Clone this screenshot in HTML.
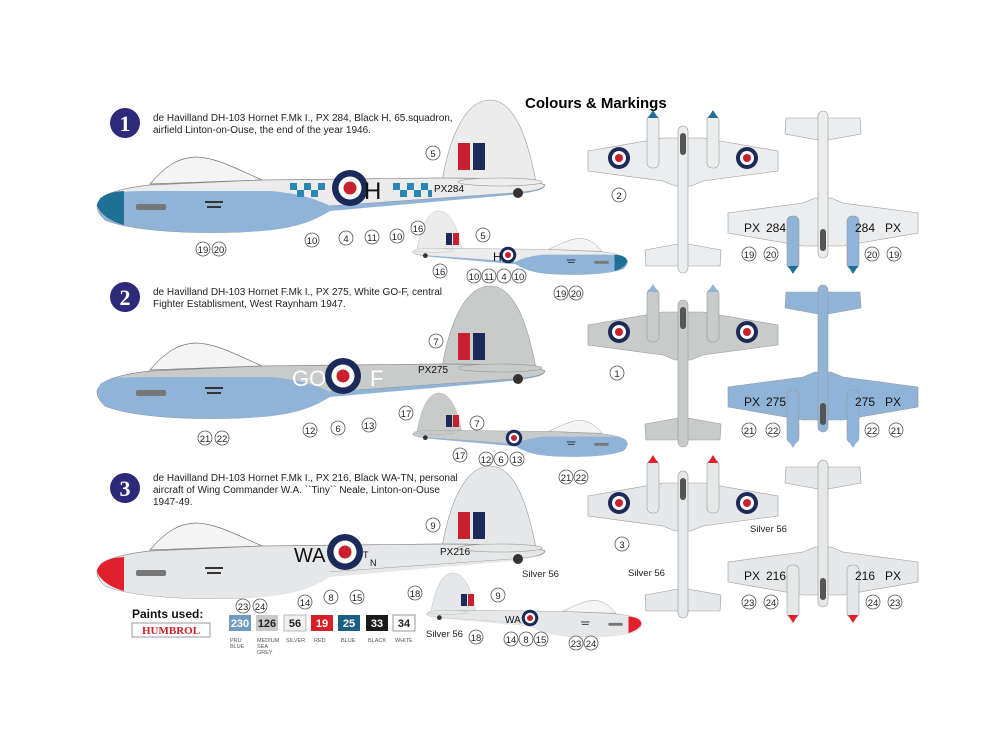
<!DOCTYPE html>
<html><head><meta charset="utf-8"><style>
html,body{margin:0;padding:0;background:#fff}
svg{display:block;font-family:"Liberation Sans",sans-serif}
.c circle{fill:#fff;stroke:#555;stroke-width:0.8}
.c text{font-size:9.5px;text-anchor:middle;fill:#222}
</style></head><body>
<svg width="1000" height="750" viewBox="0 0 1000 750">
<defs>
<symbol id="side" overflow="visible">
  <path d="M442,181 C450,135 466,100 490,100 C515,100 528,140 536,182 Z" fill="var(--body)" stroke="#999" stroke-width="0.6"/>
  <path d="M150,184 C165,166 178,158 195,157 C215,157 235,168 262,180 Z" fill="#f4f4f4" stroke="#777" stroke-width="0.7"/>
  <path d="M97,205 C100,195 115,189 150,185 L262,180 L440,178 C500,178 535,180 545,185 C544,190 530,192 500,194 L330,206 C310,220 290,230 240,232 C180,234 130,230 105,220 C99,214 97,210 97,205 Z" fill="var(--body)" stroke="#888" stroke-width="0.7"/>
  <path d="M100,198 C110,192 125,191 150,191 L270,191 C295,193 315,198 330,206 L500,194 C530,192 541,190 545,187 C540,192 520,194 500,196 L330,211 C310,223 290,231 240,232 C180,234 130,230 105,220 C99,214 97,210 100,198 Z" fill="var(--belly)"/>
  <path d="M97,205 C99,196 108,192 124,191 L124,225 C112,222 99,214 97,205 Z" fill="var(--nose)"/>
  <ellipse cx="500" cy="182" rx="42" ry="4" fill="var(--body)" stroke="#999" stroke-width="0.6"/>
  <circle cx="518" cy="193" r="5" fill="#333"/>
  <g fill="#333"><rect x="136" y="204" width="30" height="6" rx="2" fill="#777"/><rect x="205" y="201" width="18" height="2"/><rect x="207" y="206" width="14" height="2"/></g>
</symbol>
<symbol id="top" overflow="visible">
  <polygon points="-95,13 -20,0 20,0 95,13 95,33 20,43 8,48 -8,48 -20,43 -95,33" fill="var(--body)" stroke="#999" stroke-width="0.6"/>
  <polygon points="-38,112 -5,106 5,106 38,112 37,128 -37,128" fill="var(--body)" stroke="#999" stroke-width="0.6"/>
  <rect x="-5" y="-12" width="10" height="147" rx="5" fill="var(--body)" stroke="#999" stroke-width="0.6"/>
  <rect x="-36" y="-23" width="12" height="53" rx="5" fill="var(--nac)" stroke="#999" stroke-width="0.6"/>
  <rect x="24" y="-23" width="12" height="53" rx="5" fill="var(--nac)" stroke="#999" stroke-width="0.6"/>
  <path d="M-35,-20 L-30,-28 L-25,-20 Z" fill="var(--nose)"/>
  <path d="M25,-20 L30,-28 L35,-20 Z" fill="var(--nose)"/>
  <rect x="-3" y="-5" width="6" height="22" rx="3" fill="#555"/>
</symbol>
<symbol id="rnd" overflow="visible"><circle r="18" fill="#1c2a5a"/><circle r="11.5" fill="#fff"/><circle r="6.5" fill="#c8202e"/></symbol>
<symbol id="srnd" overflow="visible"><circle r="11" fill="#1c2a5a"/><circle r="7" fill="#fff"/><circle r="4" fill="#c8202e"/></symbol>
</defs>

<text x="525" y="108" font-size="15" font-weight="bold">Colours &amp; Markings</text>

<g font-family="Liberation Serif,serif" font-size="22" font-weight="bold" fill="#fff" text-anchor="middle">
<circle cx="125" cy="123" r="15" fill="#2d2a7a"/><text x="125" y="131">1</text>
<circle cx="125" cy="297" r="15" fill="#2d2a7a"/><text x="125" y="305">2</text>
<circle cx="125" cy="488" r="15" fill="#2d2a7a"/><text x="125" y="496">3</text>
</g>
<g font-size="10" fill="#222">
<text x="153" y="121">de Havilland DH-103 Hornet F.Mk I., PX 284, Black H, 65.squadron,</text>
<text x="153" y="133">airfield Linton-on-Ouse, the end of the year 1946.</text>
<text x="153" y="295">de Havilland DH-103 Hornet F.Mk I., PX 275, White GO-F, central</text>
<text x="153" y="307">Fighter Establisment, West Raynham 1947.</text>
<text x="153" y="481">de Havilland DH-103 Hornet F.Mk I., PX 216, Black WA-TN, personal</text>
<text x="153" y="493">aircraft of Wing Commander W.A. ``Tiny`` Neale, Linton-on-Ouse</text>
<text x="153" y="505">1947-49.</text>
</g>

<!-- aircraft 1 side -->
<use href="#side" style="--body:#ececed;--belly:#8fb4d8;--nose:#1f6f97"/>
<rect x="458" y="143" width="12" height="27" fill="#c8202e"/><rect x="473" y="143" width="12" height="27" fill="#1c2a5a"/>
<g fill="#2a86b5"><rect x="290" y="183" width="7" height="7"/><rect x="297" y="190" width="7" height="7"/><rect x="304" y="183" width="7" height="7"/><rect x="311" y="190" width="7" height="7"/><rect x="318" y="183" width="7" height="7"/>
<rect x="393" y="183" width="7" height="7"/><rect x="400" y="190" width="7" height="7"/><rect x="407" y="183" width="7" height="7"/><rect x="414" y="190" width="7" height="7"/><rect x="421" y="183" width="7" height="7"/><rect x="428" y="190" width="4" height="7"/></g>
<use href="#rnd" x="350" y="188"/>
<text x="364" y="199" font-size="24" fill="#111">H</text>
<text x="434" y="192" font-size="10" fill="#111">PX284</text>

<!-- aircraft 2 side -->
<use href="#side" y="186" style="--body:#c9caca;--belly:#8fb4d8;--nose:#8fb4d8"/>
<rect x="458" y="333" width="12" height="27" fill="#c8202e"/><rect x="473" y="333" width="12" height="27" fill="#1c2a5a"/>
<use href="#rnd" x="343" y="376"/>
<text x="292" y="386" font-size="22" fill="#fff">GO</text><text x="370" y="386" font-size="22" fill="#fff">F</text>
<text x="418" y="373" font-size="10" fill="#111">PX275</text>

<!-- aircraft 3 side -->
<use href="#side" y="366" style="--body:#e6e7e8;--belly:#e6e7e8;--nose:#e0202c"/>
<rect x="458" y="512" width="12" height="27" fill="#c8202e"/><rect x="473" y="512" width="12" height="27" fill="#1c2a5a"/>
<use href="#rnd" x="345" y="552"/>
<text x="294" y="562" font-size="20" fill="#111">WA</text>
<text x="363" y="558" font-size="9" fill="#111">T</text><text x="370" y="566" font-size="9" fill="#111">N</text>
<text x="440" y="555" font-size="10" fill="#111">PX216</text>

<!-- small side views (mirrored) -->
<g transform="translate(674,163) scale(-0.48,0.48)"><use href="#side" style="--body:#ececed;--belly:#8fb4d8;--nose:#1f6f97"/></g>
<rect x="446" y="233" width="6" height="12" fill="#1c2a5a"/><rect x="453" y="233" width="6" height="12" fill="#c8202e"/>
<use href="#srnd" x="508" y="255" transform="translate(508,255) scale(0.75) translate(-508,-255)"/>
<text x="493" y="261" font-size="12" fill="#111">H</text>
<g transform="translate(674,345) scale(-0.48,0.48)"><use href="#side" style="--body:#c9caca;--belly:#8fb4d8;--nose:#8fb4d8"/></g>
<rect x="446" y="415" width="6" height="12" fill="#1c2a5a"/><rect x="453" y="415" width="6" height="12" fill="#c8202e"/>
<use href="#srnd" x="514" y="438" transform="translate(514,438) scale(0.75) translate(-514,-438)"/>
<g transform="translate(688,525) scale(-0.48,0.48)"><use href="#side" style="--body:#e6e7e8;--belly:#e6e7e8;--nose:#e0202c"/></g>
<rect x="461" y="594" width="6" height="12" fill="#1c2a5a"/><rect x="468" y="594" width="6" height="12" fill="#c8202e"/>
<use href="#srnd" x="530" y="618" transform="translate(530,618) scale(0.75) translate(-530,-618)"/>
<text x="505" y="623" font-size="10" fill="#111">WA</text>

<!-- top views left -->
<use href="#top" x="683" y="138" style="--body:#ecedee;--nac:#ecedee;--nose:#1f6f97"/>
<use href="#srnd" x="619" y="158"/><use href="#srnd" x="747" y="158"/>
<use href="#top" x="683" y="312" style="--body:#c9caca;--nac:#c9caca;--nose:#8fb4d8"/>
<use href="#srnd" x="619" y="332"/><use href="#srnd" x="747" y="332"/>
<use href="#top" x="683" y="483" style="--body:#e6e7e8;--nac:#e6e7e8;--nose:#e0202c"/>
<use href="#srnd" x="619" y="503"/><use href="#srnd" x="747" y="503"/>

<!-- underside views right -->
<g transform="translate(823,246) scale(1,-1)"><use href="#top" style="--body:#ecedee;--nac:#8fb4d8;--nose:#1f6f97"/></g>
<g transform="translate(823,420) scale(1,-1)"><use href="#top" style="--body:#8fb4d8;--nac:#8fb4d8;--nose:#8fb4d8"/></g>
<g transform="translate(823,595) scale(1,-1)"><use href="#top" style="--body:#e6e7e8;--nac:#e6e7e8;--nose:#e0202c"/></g>
<g font-size="12" fill="#111">
<text x="744" y="232">PX</text><text x="766" y="232">284</text><text x="855" y="232">284</text><text x="885" y="232">PX</text>
<text x="744" y="406">PX</text><text x="766" y="406">275</text><text x="855" y="406">275</text><text x="885" y="406">PX</text>
<text x="744" y="580">PX</text><text x="766" y="580">216</text><text x="855" y="580">216</text><text x="885" y="580">PX</text>
</g>

<g class="c">
<circle cx="433" cy="153" r="7"/><text x="433" y="157">5</text>
<circle cx="312" cy="240" r="7"/><text x="312" y="244">10</text>
<circle cx="346" cy="238" r="7"/><text x="346" y="242">4</text>
<circle cx="372" cy="237" r="7"/><text x="372" y="241">11</text>
<circle cx="397" cy="236" r="7"/><text x="397" y="240">10</text>
<circle cx="418" cy="228" r="7"/><text x="418" y="232">16</text>
<circle cx="203" cy="249" r="7"/><text x="203" y="253">19</text>
<circle cx="219" cy="249" r="7"/><text x="219" y="253">20</text>
<circle cx="483" cy="235" r="7"/><text x="483" y="239">5</text>
<circle cx="440" cy="271" r="7"/><text x="440" y="275">16</text>
<circle cx="474" cy="276" r="7"/><text x="474" y="280">10</text>
<circle cx="489" cy="276" r="7"/><text x="489" y="280">11</text>
<circle cx="504" cy="276" r="7"/><text x="504" y="280">4</text>
<circle cx="519" cy="276" r="7"/><text x="519" y="280">10</text>
<circle cx="561" cy="293" r="7"/><text x="561" y="297">19</text>
<circle cx="576" cy="293" r="7"/><text x="576" y="297">20</text>
<circle cx="619" cy="195" r="7"/><text x="619" y="199">2</text>
<circle cx="749" cy="254" r="7"/><text x="749" y="258">19</text>
<circle cx="771" cy="254" r="7"/><text x="771" y="258">20</text>
<circle cx="872" cy="254" r="7"/><text x="872" y="258">20</text>
<circle cx="894" cy="254" r="7"/><text x="894" y="258">19</text>
<circle cx="436" cy="341" r="7"/><text x="436" y="345">7</text>
<circle cx="406" cy="413" r="7"/><text x="406" y="417">17</text>
<circle cx="310" cy="430" r="7"/><text x="310" y="434">12</text>
<circle cx="338" cy="428" r="7"/><text x="338" y="432">6</text>
<circle cx="369" cy="425" r="7"/><text x="369" y="429">13</text>
<circle cx="205" cy="438" r="7"/><text x="205" y="442">21</text>
<circle cx="222" cy="438" r="7"/><text x="222" y="442">22</text>
<circle cx="477" cy="423" r="7"/><text x="477" y="427">7</text>
<circle cx="460" cy="455" r="7"/><text x="460" y="459">17</text>
<circle cx="486" cy="459" r="7"/><text x="486" y="463">12</text>
<circle cx="501" cy="459" r="7"/><text x="501" y="463">6</text>
<circle cx="517" cy="459" r="7"/><text x="517" y="463">13</text>
<circle cx="566" cy="477" r="7"/><text x="566" y="481">21</text>
<circle cx="581" cy="477" r="7"/><text x="581" y="481">22</text>
<circle cx="617" cy="373" r="7"/><text x="617" y="377">1</text>
<circle cx="749" cy="430" r="7"/><text x="749" y="434">21</text>
<circle cx="773" cy="430" r="7"/><text x="773" y="434">22</text>
<circle cx="872" cy="430" r="7"/><text x="872" y="434">22</text>
<circle cx="896" cy="430" r="7"/><text x="896" y="434">21</text>
<circle cx="433" cy="525" r="7"/><text x="433" y="529">9</text>
<circle cx="415" cy="593" r="7"/><text x="415" y="597">18</text>
<circle cx="305" cy="602" r="7"/><text x="305" y="606">14</text>
<circle cx="331" cy="597" r="7"/><text x="331" y="601">8</text>
<circle cx="357" cy="597" r="7"/><text x="357" y="601">15</text>
<circle cx="243" cy="606" r="7"/><text x="243" y="610">23</text>
<circle cx="260" cy="606" r="7"/><text x="260" y="610">24</text>
<circle cx="498" cy="595" r="7"/><text x="498" y="599">9</text>
<circle cx="476" cy="637" r="7"/><text x="476" y="641">18</text>
<circle cx="511" cy="639" r="7"/><text x="511" y="643">14</text>
<circle cx="526" cy="639" r="7"/><text x="526" y="643">8</text>
<circle cx="541" cy="639" r="7"/><text x="541" y="643">15</text>
<circle cx="576" cy="643" r="7"/><text x="576" y="647">23</text>
<circle cx="591" cy="643" r="7"/><text x="591" y="647">24</text>
<circle cx="622" cy="544" r="7"/><text x="622" y="548">3</text>
<circle cx="749" cy="602" r="7"/><text x="749" y="606">23</text>
<circle cx="771" cy="602" r="7"/><text x="771" y="606">24</text>
<circle cx="873" cy="602" r="7"/><text x="873" y="606">24</text>
<circle cx="895" cy="602" r="7"/><text x="895" y="606">23</text>
</g>
<g font-size="9.5" fill="#222">
<text x="522" y="577">Silver 56</text>
<text x="426" y="637">Silver 56</text>
<text x="628" y="576">Silver 56</text>
<text x="750" y="532">Silver 56</text>
</g>

<text x="132" y="618" font-size="12" font-weight="bold" fill="#111">Paints used:</text>
<rect x="132" y="623" width="78" height="14" fill="#fff" stroke="#999"/>
<text x="171" y="634" font-size="11" font-weight="bold" fill="#d0202a" text-anchor="middle" font-family="Liberation Serif,serif">HUMBROL</text>
<g font-size="11" font-weight="bold" text-anchor="middle">
<rect x="229" y="615" width="22" height="16" fill="#6f9cc0"/><text x="240" y="627" fill="#fff">230</text>
<rect x="256" y="615" width="22" height="16" fill="#c8c8c8"/><text x="267" y="627" fill="#222">126</text>
<rect x="284" y="615" width="22" height="16" fill="#f0f0f0" stroke="#bbb"/><text x="295" y="627" fill="#222">56</text>
<rect x="311" y="615" width="22" height="16" fill="#d82028"/><text x="322" y="627" fill="#fff">19</text>
<rect x="338" y="615" width="22" height="16" fill="#1a5f86"/><text x="349" y="627" fill="#fff">25</text>
<rect x="366" y="615" width="22" height="16" fill="#1a1a1a"/><text x="377" y="627" fill="#fff">33</text>
<rect x="393" y="615" width="22" height="16" fill="#fff" stroke="#999"/><text x="404" y="627" fill="#222">34</text>
</g>
<g font-size="5.5" fill="#555">
<text x="230" y="642">PRU</text><text x="230" y="648">BLUE</text>
<text x="257" y="642">MEDIUM</text><text x="257" y="648">SEA</text><text x="257" y="654">GREY</text>
<text x="286" y="642">SILVER</text><text x="314" y="642">RED</text><text x="341" y="642">BLUE</text><text x="368" y="642">BLACK</text><text x="395" y="642">WHITE</text>
</g>
</svg>
</body></html>
